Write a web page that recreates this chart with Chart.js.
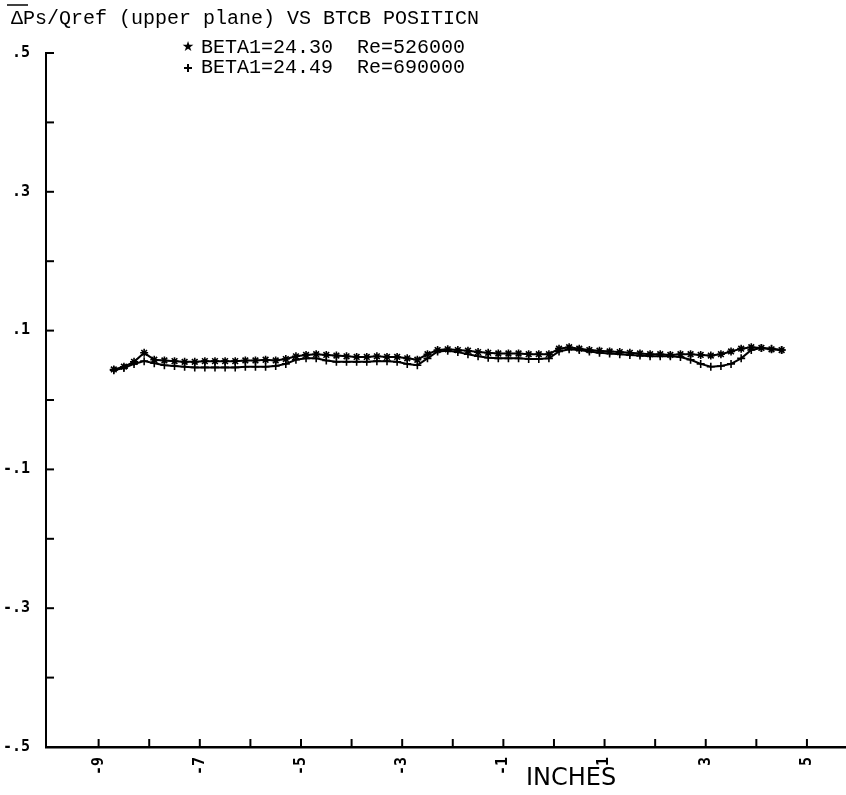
<!DOCTYPE html>
<html>
<head>
<meta charset="utf-8">
<script src="https://cdn.jsdelivr.net/npm/chart.js@4.4.1/dist/chart.umd.min.js"></script>
<style>
html,body{margin:0;padding:0;background:#fff;}
#wrap{width:846px;height:795px;position:relative;overflow:hidden;}
</style>
</head>
<body>
<div id="wrap"><canvas id="c" width="852" height="795"></canvas></div>
<script>
const titleText = "\u0394Ps/Qref (upper plane) VS BTCB POSITICN";
const xAxisTitle = "INCHES";
const seriesNames = ["BETA1=24.30  Re=526000", "BETA1=24.49  Re=690000"];

const xPos = [-8.7,-8.5,-8.3,-8.1,-7.9,-7.7,-7.5,-7.3,-7.1,-6.9,-6.7,-6.5,-6.3,-6.1,-5.9,-5.7,-5.5,-5.3,-5.1,-4.9,-4.7,-4.5,-4.3,-4.1,-3.9,-3.7,-3.5,-3.3,-3.1,-2.9,-2.7,-2.5,-2.3,-2.1,-1.9,-1.7,-1.5,-1.3,-1.1,-0.9,-0.7,-0.5,-0.3,-0.1,0.1,0.3,0.5,0.7,0.9,1.1,1.3,1.5,1.7,1.9,2.1,2.3,2.5,2.7,2.9,3.1,3.3,3.5,3.7,3.9,4.1,4.3,4.5];

const seriesStar = [0.044,0.048,0.055,0.068,0.058,0.057,0.056,0.055,0.055,0.056,0.056,0.056,0.056,0.057,0.057,0.058,0.057,0.059,0.063,0.065,0.066,0.065,0.064,0.063,0.062,0.062,0.063,0.062,0.062,0.060,0.058,0.066,0.072,0.073,0.072,0.071,0.069,0.068,0.067,0.067,0.067,0.066,0.066,0.066,0.074,0.076,0.074,0.072,0.071,0.070,0.069,0.068,0.067,0.066,0.066,0.065,0.066,0.066,0.065,0.064,0.066,0.070,0.074,0.076,0.075,0.073,0.072];

const seriesPlus = [0.043,0.046,0.052,0.056,0.053,0.050,0.049,0.048,0.047,0.047,0.047,0.047,0.047,0.048,0.048,0.048,0.049,0.052,0.058,0.060,0.060,0.057,0.055,0.055,0.055,0.055,0.056,0.056,0.055,0.052,0.050,0.060,0.070,0.071,0.069,0.066,0.063,0.061,0.060,0.060,0.060,0.059,0.059,0.060,0.070,0.073,0.072,0.070,0.068,0.067,0.066,0.065,0.064,0.063,0.063,0.063,0.062,0.058,0.052,0.048,0.049,0.052,0.060,0.072,0.075,0.074,0.072];

const xTickValues = [-10,-9,-8,-7,-6,-5,-4,-3,-2,-1,0,1,2,3,4,5];
const xTickLabels = ["","-9","","-7","","-5","","-3","","-1","","1","","3","","5"];
const yTickValues = [-0.5,-0.4,-0.3,-0.2,-0.1,0,0.1,0.2,0.3,0.4,0.5];
const yTickLabels = ["-.5","",  "-.3","",  "-.1","", ".1","", ".3","", ".5"];

function pts(xs, ys){ return xs.map((x,i)=>({x:x,y:ys[i]})); }

const decor = {
  id:'decor',
  afterDraw(chart){
    const ctx = chart.ctx;
    const xs = chart.scales.x, ys = chart.scales.y;
    ctx.save();
    ctx.strokeStyle = '#000';
    ctx.fillStyle = '#000';
    ctx.lineWidth = 2;
    xTickValues.forEach(v=>{
      if (v <= xs.min + 0.1) return;
      const px = xs.getPixelForValue(v);
      ctx.beginPath(); ctx.moveTo(px, ys.bottom); ctx.lineTo(px, ys.bottom-8); ctx.stroke();
    });
    yTickValues.forEach(v=>{
      if (v <= ys.min) return;
      const py = ys.getPixelForValue(v);
      ctx.beginPath(); ctx.moveTo(xs.left, py); ctx.lineTo(xs.left+8, py); ctx.stroke();
    });
    ctx.font = '20px "Liberation Mono", "DejaVu Sans Mono", monospace';
    ctx.textBaseline = 'middle';
    ctx.textAlign = 'left';
    ctx.fillText(titleText, 11, 19);
    ctx.lineWidth = 1.5;
    ctx.beginPath(); ctx.moveTo(7, 5); ctx.lineTo(28, 5); ctx.stroke();
    ctx.font = '20px "Liberation Mono", "DejaVu Sans Mono", monospace';
    ctx.fillText(seriesNames[0], 201, 48);
    ctx.fillText(seriesNames[1], 201, 68);
    ctx.font = '14px "DejaVu Sans", sans-serif';
    ctx.textAlign = 'center';
    ctx.fillText('\u2605', 188, 47);
    ctx.lineWidth = 2;
    ctx.beginPath(); ctx.moveTo(184, 68); ctx.lineTo(192, 68); ctx.moveTo(188, 64); ctx.lineTo(188, 72); ctx.stroke();
    ctx.font = '24px "DejaVu Sans", sans-serif';
    ctx.textAlign = 'left';
    ctx.fillText(xAxisTitle, 526, 779);
    ctx.restore();
  }
};

new Chart(document.getElementById('c'), {
  type: 'scatter',
  data: {
    datasets: [
      { label: seriesNames[0], data: pts(xPos, seriesStar), showLine: true,
        borderColor:'#000', backgroundColor:'#000', borderWidth:2,
        pointStyle:'star', pointRadius:4, pointBorderWidth:1.6, tension:0 },
      { label: seriesNames[1], data: pts(xPos, seriesPlus), showLine: true,
        borderColor:'#000', backgroundColor:'#000', borderWidth:2,
        pointStyle:'cross', pointRadius:4, pointBorderWidth:1.6, tension:0 }
    ]
  },
  options: {
    responsive:false,
    animation:false,
    events: [],
    layout:{ padding:{ top:53, right:0, left:0, bottom:0 } },
    plugins:{ legend:{display:false}, tooltip:{enabled:false}, title:{display:false} },
    scales:{
      x:{
        type:'linear', min:-10.04, max:5.78,
        afterBuildTicks(s){ s.ticks = xTickValues.map(v=>({value:v})); },
        afterFit(s){ s.height = 48; },
        grid:{ display:false, drawTicks:false },
        border:{ display:true, color:'#000', width:2.5 },
        ticks:{
          autoSkip:false, minRotation:90, maxRotation:90, padding:10,
          color:'#000', font:{ family:'"DejaVu Sans Mono", monospace', size:15, weight:'bold' },
          callback(v){ const i = xTickValues.indexOf(v); return i>=0 ? xTickLabels[i] : ''; }
        }
      },
      y:{
        type:'linear', min:-0.5, max:0.5,
        afterBuildTicks(s){ s.ticks = yTickValues.map(v=>({value:v})); },
        afterFit(s){ s.width = 46; },
        grid:{ display:false, drawTicks:false },
        border:{ display:true, color:'#000', width:2 },
        ticks:{
          autoSkip:false, padding:16,
          color:'#000', font:{ family:'"DejaVu Sans Mono", monospace', size:15, weight:'bold' },
          callback(v){ const i = yTickValues.findIndex(t=>Math.abs(t-v)<1e-9); return i>=0 ? yTickLabels[i] : ''; }
        }
      }
    }
  },
  plugins:[decor]
});
</script>
</body>
</html>
